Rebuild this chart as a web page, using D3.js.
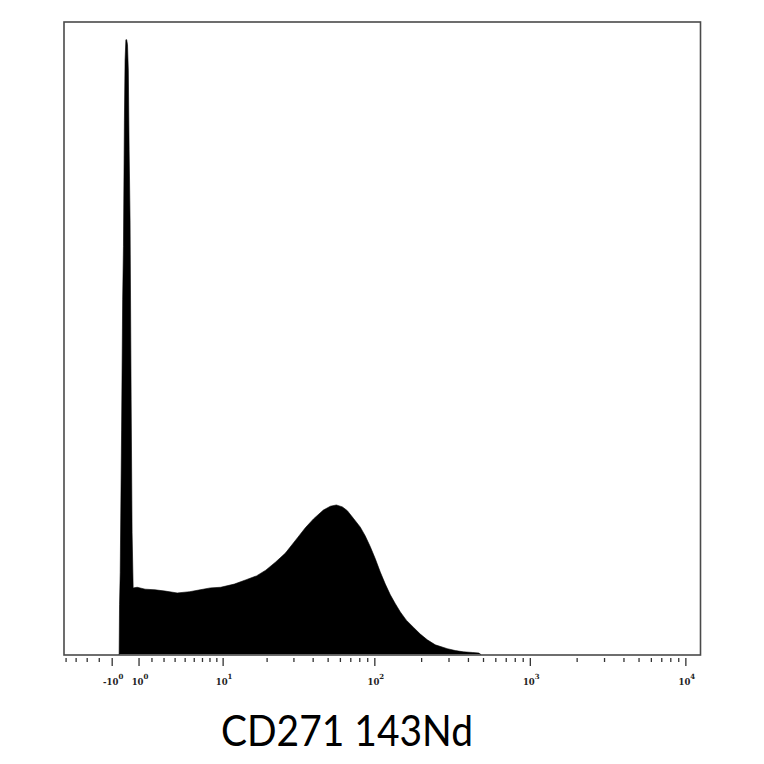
<!DOCTYPE html>
<html>
<head>
<meta charset="utf-8">
<script src="https://cdn.jsdelivr.net/npm/d3@7"></script>
<style>
  html, body { margin: 0; padding: 0; background: #fff; }
  svg { display: block; }
</style>
</head>
<body>
<div id="chart"></div>
<script>
// ---- data ----
const cofactor = 5;
const xDomain = [-5.22, 12420];
const yDomain = [0, 1000];

// histogram bin positions (channel values) and event counts
const binValues = [-0.48, -0.45, -0.40, -0.30, -0.22, -0.16, -0.09, -0.04, 0.02, 0.08, 0.14, 0.20, 0.26, 0.33, 0.41, 0.48, 0.56,
  0.86, 1.46, 2.25, 3.09, 4.2, 5.5, 6.7, 8.05, 9.6, 12.0, 14.5, 17.0, 19.6, 22.8, 26.4, 31.6, 35.6, 40.2, 46.6, 51.7, 56.5,
  61.8, 66.5, 72.7, 80.6, 86.8, 93.5, 100.7, 108.4, 116.8, 125.8, 135.5, 145.9, 159.4, 176.8, 196.1, 217.5, 244.9, 292.4,
  329.2, 370.7, 423.5, 468, 479];
const counts = [0, 80, 130, 354, 561, 645, 845, 940, 972, 972, 964, 924, 798, 687, 403, 193, 106,
  107, 104, 103, 101, 98, 100, 103, 106, 107, 112, 119, 125, 134, 147, 161, 185, 201, 215, 229, 235, 237,
  234, 228, 216, 202, 188, 171, 152, 131, 112, 95, 81, 68, 55, 44, 33, 24, 16, 10,
  7, 5, 4, 3, 0];

const majorTicks = [-1, 1, 10, 100, 1000, 10000];
const majorBase = ["-10", "10", "10", "10", "10", "10"];
const majorExp = ["0", "0", "1", "2", "3", "4"];
const minorTicks = [-5, -4, -3, -2,
  2, 3, 4, 5, 6, 7, 8, 9,
  20, 30, 40, 50, 60, 70, 80, 90,
  200, 300, 400, 500, 600, 700, 800, 900,
  2000, 3000, 4000, 5000, 6000, 7000, 8000, 9000];
const axisTitle = "CD271 143Nd";

// ---- drawing ----
const W = 764, H = 764;
const plot = { left: 64, right: 700.5, top: 22, bottom: 655 };

const svg = d3.select("#chart").append("svg")
  .attr("width", W).attr("height", H)
  .attr("viewBox", `0 0 ${W} ${H}`);
svg.append("rect").attr("width", W).attr("height", H).attr("fill", "#fff");

const asinhT = v => Math.asinh(v / cofactor);
const sx = d3.scaleLinear()
  .domain(xDomain.map(asinhT))
  .range([plot.left, plot.right]);
const x = v => sx(asinhT(v));
const y = d3.scaleLinear().domain(yDomain).range([plot.bottom, plot.top]);

const hist = binValues.map((v, i) => ({ v, c: counts[i] }));

const area = d3.area()
  .x(d => x(d.v))
  .y0(y(0) - 1)
  .y1(d => y(d.c))
  .curve(d3.curveLinear);

svg.append("path")
  .datum(hist)
  .attr("d", area)
  .attr("fill", "#000")
  .attr("stroke", "#000")
  .attr("stroke-width", 0.6);

// frame
svg.append("rect")
  .attr("x", plot.left).attr("y", plot.top)
  .attr("width", plot.right - plot.left)
  .attr("height", plot.bottom - plot.top)
  .attr("fill", "none")
  .attr("stroke", "#4a4a4a")
  .attr("stroke-width", 1.6);

// ticks
const tickTop = plot.bottom + 3;
const gT = svg.append("g").attr("stroke", "#333").attr("stroke-width", 1.3);
gT.selectAll("line.minor").data(minorTicks).join("line")
  .attr("class", "minor")
  .attr("x1", d => x(d)).attr("x2", d => x(d))
  .attr("y1", tickTop).attr("y2", tickTop + 4);
gT.selectAll("line.major").data(majorTicks).join("line")
  .attr("class", "major")
  .attr("x1", d => x(d)).attr("x2", d => x(d))
  .attr("y1", tickTop).attr("y2", tickTop + 8);

// tick labels
const lab = svg.append("g")
  .attr("font-family", "'DejaVu Serif', 'Liberation Serif', serif")
  .attr("font-weight", "bold")
  .attr("fill", "#222");
majorTicks.forEach((t, i) => {
  const txt = lab.append("text")
    .attr("x", x(t) + 1)
    .attr("y", 685)
    .attr("text-anchor", "middle")
    .attr("font-size", 8.5);
  txt.append("tspan").text(majorBase[i]);
  txt.append("tspan").attr("dy", -6).attr("font-size", 7).text(majorExp[i]);
});

// axis title
svg.append("text")
  .attr("x", 221)
  .attr("y", 746)
  .attr("font-family", "Lato, 'Open Sans', sans-serif")
  .attr("font-size", 42)
  .attr("fill", "#000")
  .attr("textLength", 252)
  .attr("lengthAdjust", "spacingAndGlyphs")
  .text(axisTitle);
</script>
</body>
</html>
